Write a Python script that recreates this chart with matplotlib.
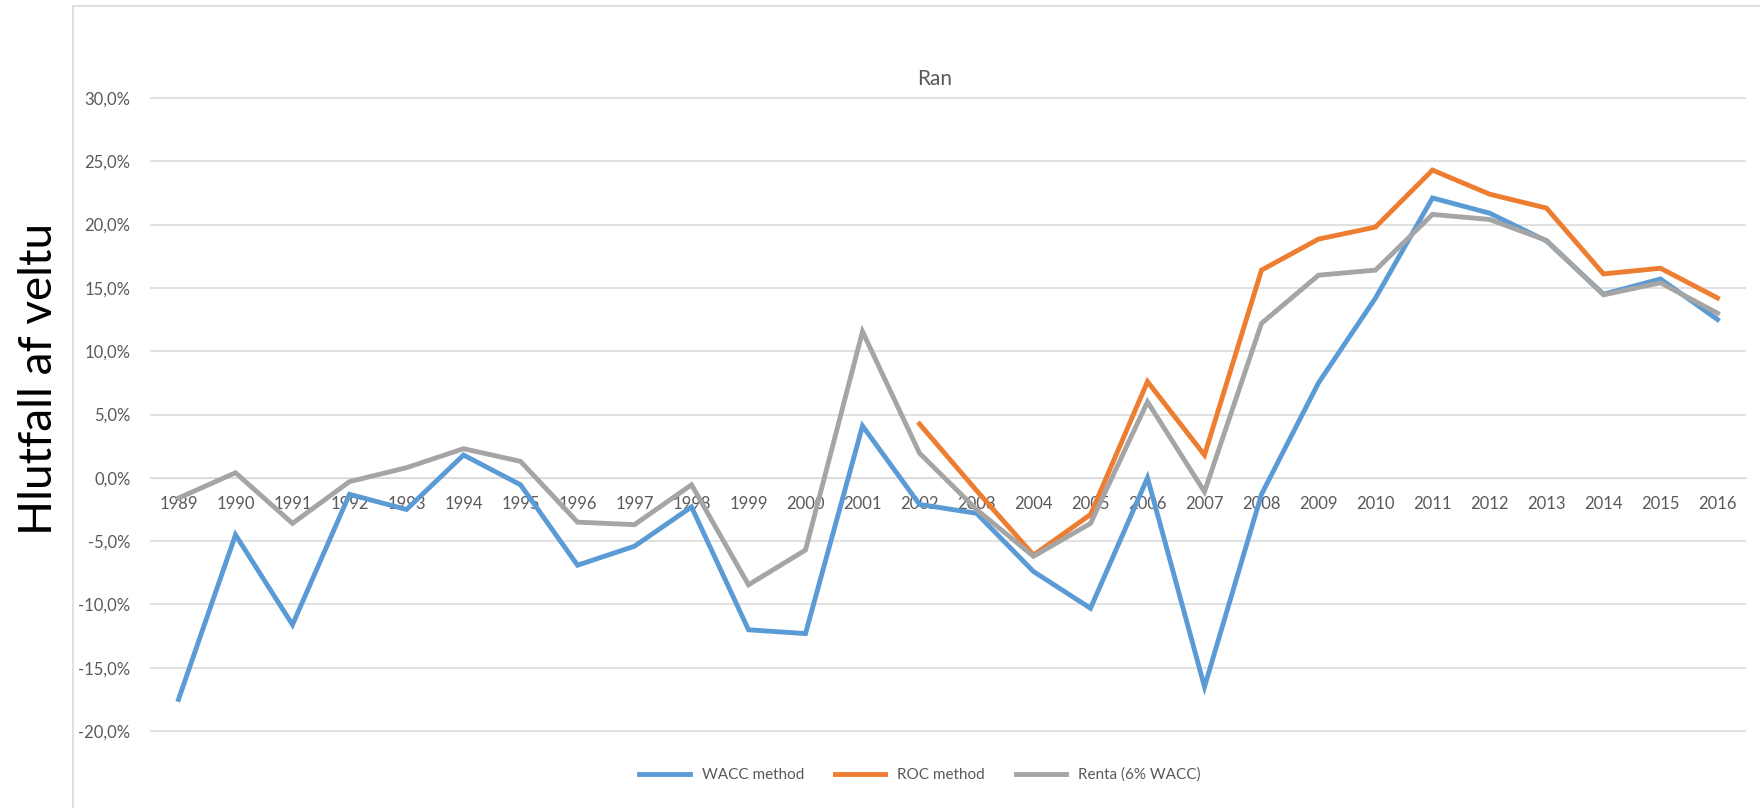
import matplotlib.pyplot as plt
import matplotlib.patches as mpatches
import numpy as np

plt.rcParams['font.family'] = ['Lato', 'DejaVu Sans']

# Categories (years) and the three series, in percent of turnover
years = ['1989', '1990', '1991', '1992', '1993', '1994', '1995', '1996', '1997', '1998',
         '1999', '2000', '2001', '2002', '2003', '2004', '2005', '2006', '2007', '2008',
         '2009', '2010', '2011', '2012', '2013', '2014', '2015', '2016']

wacc = [-17.5, -4.5, -11.6, -1.3, -2.5, 1.8, -0.55, -6.9, -5.4, -2.3,
        -12.0, -12.3, 4.1, -2.1, -2.8, -7.4, -10.3, 0.0, -16.5, -1.3,
        7.5, 14.2, 22.1, 20.9, 18.7, 14.5, 15.7, 12.5]

roc = [np.nan, np.nan, np.nan, np.nan, np.nan, np.nan, np.nan, np.nan, np.nan, np.nan,
       np.nan, np.nan, np.nan, 4.25, -1.0, -6.1, -2.9, 7.6, 1.8, 16.4,
       18.85, 19.8, 24.3, 22.4, 21.3, 16.1, 16.55, 14.2]

renta = [-1.6, 0.4, -3.6, -0.3, 0.8, 2.3, 1.3, -3.5, -3.7, -0.55,
         -8.45, -5.7, 11.55, 1.95, -2.5, -6.2, -3.6, 6.0, -1.1, 12.2,
         16.0, 16.4, 20.8, 20.4, 18.75, 14.45, 15.4, 13.0]

series_names = ['WACC method', 'ROC method', 'Renta (6% WACC)']
series_colors = ['#5B9BD5', '#ED7D31', '#A5A5A5']
y_ticks = [-20, -15, -10, -5, 0, 5, 10, 15, 20, 25, 30]

W, H = 1760, 808
fig = plt.figure(figsize=(W / 100, H / 100), dpi=100)
ax = fig.add_axes([150 / W, 1 - 733 / H, (1746 - 150) / W, (733 - 96) / H])

x = np.arange(len(years))
for vals, name, col in zip([wacc, roc, renta], series_names, series_colors):
    ax.plot(x, vals, color=col, linewidth=3.5, label=name,
            solid_joinstyle='miter', zorder=3)

ax.set_xlim(-0.5, len(years) - 0.5)
ax.set_ylim(-20.15, 30.15)
ax.set_yticks(y_ticks)
ax.set_yticklabels([f"{v:.1f}%".replace('.', ',') for v in y_ticks])
ax.grid(axis='y', color='#D9D9D9', linewidth=1.1)
ax.set_axisbelow(True)

# category axis crosses at zero, like the spreadsheet chart
ax.set_xticks(x)
ax.set_xticklabels(years)
ax.spines['bottom'].set_position(('data', 0))
ax.spines['bottom'].set_color('#D9D9D9')
for s in ['left', 'right', 'top']:
    ax.spines[s].set_visible(False)
ax.tick_params(axis='x', length=0, pad=13, labelsize=12, labelcolor='#595959')
ax.tick_params(axis='y', length=0, pad=14, labelsize=12, labelcolor='#595959')

# outer chart frame
frame = mpatches.Rectangle((73 / W, -0.01), 1.0, 1 - 6 / H + 0.01,
                           transform=fig.transFigure, fill=False,
                           edgecolor='#D9D9D9', linewidth=1.2)
fig.patches.append(frame)

fig.text(935 / W, 1 - 79 / H, 'Ran', ha='center', va='center',
         fontsize=15, color='#595959')
fig.text(39 / W, 1 - 379 / H, 'Hlutfall af veltu', rotation=90,
         ha='center', va='center', fontsize=33, color='black')

fig.legend(loc='center', bbox_to_anchor=(920 / W, 1 - 775 / H), ncol=3,
           frameon=False, fontsize=11, handlelength=3.3, columnspacing=2.0,
           labelcolor='#595959')

fig.savefig('out.png', dpi=100)
